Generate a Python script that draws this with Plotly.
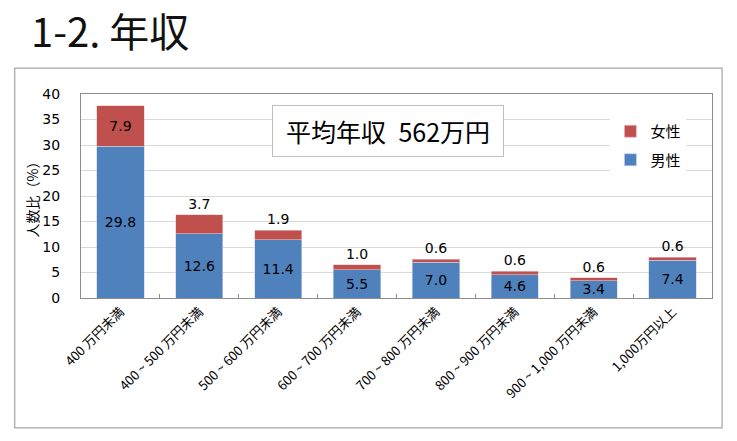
import plotly.graph_objects as go

categories = ["400 万円未満", "400 ~ 500 万円未満", "500 ~ 600 万円未満", "600 ~ 700 万円未満",
              "700 ~ 800 万円未満", "800 ~ 900 万円未満", "900 ~ 1,000 万円未満", "1,000万円以上"]
male = [29.8, 12.6, 11.4, 5.5, 7.0, 4.6, 3.4, 7.4]
female = [7.9, 3.7, 1.9, 1.0, 0.6, 0.6, 0.6, 0.6]

title_text = "1-2. 年収"
avg_text = "平均年収\u2002562万円"

JP = "Noto Sans CJK JP"
NUM = "DejaVu Sans, Noto Sans CJK JP"

# label placement for the female series (only the tall one fits inside)
female_pos = ["inside"] + ["outside"] * (len(female) - 1)

fig = go.Figure()
fig.add_trace(go.Bar(x=categories, y=male, name="男性", marker_color="#4F81BD",
                     marker_line=dict(color="#c6d4ea", width=0.6),
                     text=[f"{v:.1f}" for v in male], textposition="inside",
                     insidetextanchor="middle", constraintext="none",
                     textfont=dict(family=NUM, size=14, color="#000"),
                     legendgroup="m", legendrank=2))
fig.add_trace(go.Bar(x=categories, y=female, name="女性", marker_color="#C0504D",
                     marker_line=dict(color="#e8c6c5", width=0.6),
                     text=[f"{v:.1f}" for v in female], textposition=female_pos,
                     insidetextanchor="middle", constraintext="none", cliponaxis=False,
                     textfont=dict(family=NUM, size=14, color="#000"),
                     legendgroup="f", legendrank=1))

# page body adds an 8px offset, so the figure is 8px smaller than the window
fig.update_layout(
    barmode="stack",
    bargap=0.4,
    width=729, height=433,
    margin=dict(l=73, r=25, t=86, b=143, autoexpand=False),
    paper_bgcolor="white", plot_bgcolor="white",
    font=dict(family=JP, color="#000"),
    showlegend=True,
    legend=dict(x=0.839, y=0.897, xanchor="left", yanchor="top",
                bgcolor="white", font=dict(family=JP, size=15), itemwidth=30,
                traceorder="grouped", tracegroupgap=6),
    xaxis=dict(showline=True, linecolor="#8c8c8c", mirror=True, automargin=False,
               ticks="inside", tickson="boundaries", ticklen=4, tickcolor="#8c8c8c",
               tickangle=-45, tickfont=dict(family=JP, size=13, color="#000")),
    yaxis=dict(range=[0, 40], dtick=5, showline=True, linecolor="#8c8c8c", mirror=True,
               automargin=False, gridcolor="#d9d9d9", ticks="", ticklabelstandoff=17,
               tickfont=dict(family=NUM, size=14, color="#000"),
               title=dict(text="人数比（%）", font=dict(family=JP, size=14, color="#000"),
                          standoff=0)),
    shapes=[dict(type="rect", xref="paper", yref="paper",
                 x0=-0.105, x1=1.016, y0=-0.637, y1=1.127,
                 line=dict(color="#a6a6a6", width=1.2), layer="below")],
    annotations=[
        dict(text=title_text, xref="paper", yref="paper", x=-0.082, y=1.468,
             xanchor="left", yanchor="top", showarrow=False,
             font=dict(family=JP, size=40, color="#111")),
        dict(text=avg_text, xref="paper", yref="paper", x=0.4865, y=0.819,
             xanchor="center", yanchor="middle",
             showarrow=False, font=dict(family=JP, size=25, color="#000"),
             bgcolor="white", bordercolor="#bfbfbf", borderwidth=1,
             width=226, height=46, borderpad=2),
    ],
)

fig.write_html("out.html")
